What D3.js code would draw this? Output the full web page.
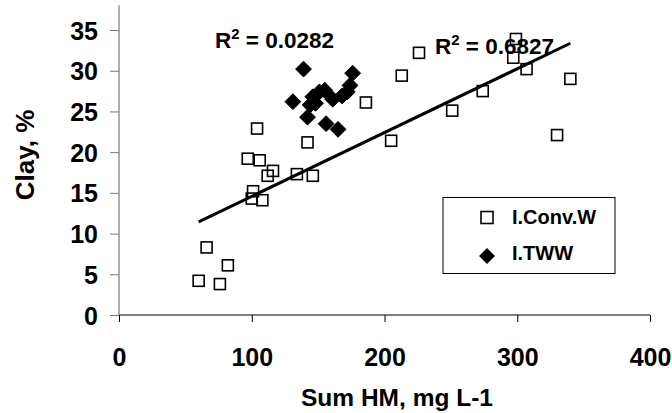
<!DOCTYPE html>
<html lang="en">
<head>
  <meta charset="UTF-8">
  <title>Clay vs Sum HM</title>
  <style>
    body {
      margin: 0;
      background: #fff;
    }
    svg text {
      font-family: "Liberation Sans", Arial, sans-serif;
      font-weight: bold;
      fill: #000;
    }
  </style>
</head>
<body>
  <svg id="chart" width="672" height="413"></svg>

  <script src="https://d3js.org/d3.v7.min.js"></script>
  <script>
    // I.Conv.W series (Sum HM, Clay %)
    const convX = [60, 66, 76, 82, 97, 100, 101, 104, 106, 108, 112, 116, 134, 142, 146,
                   186, 205, 213, 226, 251, 274, 297, 299, 307, 330, 340];
    const convY = [4.2, 8.3, 3.8, 6.1, 19.2, 14.3, 15.2, 22.9, 19.0, 14.1, 17.1, 17.7, 17.3, 21.2, 17.1,
                   26.1, 21.4, 29.4, 32.2, 25.1, 27.5, 31.6, 33.9, 30.2, 22.1, 29.0];

    // I.TWW series
    const twwX = [139, 176, 174, 131, 142, 156, 165, 146, 151, 148, 144, 161, 168, 172, 155];
    const twwY = [30.2, 29.7, 28.2, 26.2, 24.3, 23.5, 22.8, 26.8, 27.4, 26.0, 25.8, 26.5, 26.9, 27.4, 27.6];

    const xTicks = [0, 100, 200, 300, 400];
    const yTicks = [0, 5, 10, 15, 20, 25, 30, 35];
    const seriesNames = ["I.Conv.W", "I.TWW"];
    const r2Labels = ["0.0282", "0.6827"];

    const svg = d3.select("#chart");

    const x = d3.scaleLinear().domain([0, 400]).range([119, 650]);
    const y = d3.scaleLinear().domain([0, 38]).range([315, 5.6]);

    // axes
    const xAxis = svg.append("g")
      .attr("transform", "translate(0,315)")
      .call(d3.axisBottom(x).tickValues(xTicks).tickSize(7).tickPadding(26));
    xAxis.select(".domain").attr("stroke", "#000").attr("stroke-width", 1.2)
      .attr("d", "M" + x(0) + ",0H" + x(400));
    xAxis.selectAll(".tick line").attr("stroke", "#000");
    xAxis.selectAll("text").style("font-size", "25px");

    const yAxis = svg.append("g")
      .attr("transform", "translate(119,0)")
      .call(d3.axisLeft(y).tickValues(yTicks).tickSize(9).tickPadding(12));
    yAxis.select(".domain").attr("stroke", "#777").attr("stroke-width", 1.2)
      .attr("d", "M0," + y(38) + "V" + y(0));
    yAxis.selectAll(".tick line").attr("stroke", "#777");
    yAxis.selectAll("text").style("font-size", "25px").attr("dy", "0.36em");

    // axis titles
    svg.append("text")
      .attr("x", 397).attr("y", 406)
      .attr("text-anchor", "middle")
      .style("font-size", "24.5px")
      .text("Sum HM, mg L-1");

    svg.append("text")
      .attr("transform", "translate(34,155) rotate(-90)")
      .attr("text-anchor", "middle")
      .style("font-size", "26px")
      .text("Clay, %");

    // trendline for I.Conv.W (least squares)
    const mx = d3.mean(convX), my = d3.mean(convY);
    const sxy = d3.sum(convX, (v, i) => (v - mx) * (convY[i] - my));
    const sxx = d3.sum(convX, v => (v - mx) * (v - mx));
    const slope = sxy / sxx;
    const intercept = my - slope * mx;
    const xMin = d3.min(convX), xMax = d3.max(convX);

    // markers
    const conv = convX.map((v, i) => ({ x: v, y: convY[i] }));
    const tww = twwX.map((v, i) => ({ x: v, y: twwY[i] }));

    svg.append("g")
      .selectAll("rect")
      .data(conv)
      .join("rect")
      .attr("x", d => x(d.x) - 5.5)
      .attr("y", d => y(d.y) - 5.5)
      .attr("width", 11).attr("height", 11)
      .attr("fill", "none")
      .attr("stroke", "#000").attr("stroke-width", 1.6);

    const diamond = d3.symbol().type(d3.symbolDiamond2).size(160);
    svg.append("g")
      .selectAll("path")
      .data(tww)
      .join("path")
      .attr("d", diamond)
      .attr("transform", d => "translate(" + x(d.x) + "," + y(d.y) + ")")
      .attr("fill", "#000")
      .attr("stroke", "#000").attr("stroke-width", 1);

    svg.append("line")
      .attr("x1", x(xMin)).attr("y1", y(intercept + slope * xMin))
      .attr("x2", x(xMax)).attr("y2", y(intercept + slope * xMax))
      .attr("stroke", "#000").attr("stroke-width", 3);

    // R² labels
    function r2(xp, yp, val) {
      const t = svg.append("text").attr("x", xp).attr("y", yp).style("font-size", "22.5px");
      t.append("tspan").text("R");
      t.append("tspan").attr("dy", -9).style("font-size", "15px").text("2");
      t.append("tspan").attr("dy", 9).text(" = " + val);
    }
    r2(215, 48, r2Labels[0]);
    r2(435, 54, r2Labels[1]);

    // legend
    const legend = svg.append("g");
    legend.append("rect")
      .attr("x", 443).attr("y", 197.5)
      .attr("width", 172).attr("height", 76)
      .attr("fill", "#fff").attr("stroke", "#000").attr("stroke-width", 1);

    legend.append("rect")
      .attr("x", 481).attr("y", 211.5)
      .attr("width", 12).attr("height", 12)
      .attr("fill", "none").attr("stroke", "#000").attr("stroke-width", 1.6);
    legend.append("path")
      .attr("d", diamond)
      .attr("transform", "translate(487,256)")
      .attr("fill", "#000");

    legend.selectAll("text.lbl")
      .data(seriesNames)
      .join("text")
      .attr("class", "lbl")
      .attr("x", 512)
      .attr("y", (d, i) => 224 + i * 36)
      .style("font-size", "20px")
      .text(d => d);
  </script>
</body>
</html>
